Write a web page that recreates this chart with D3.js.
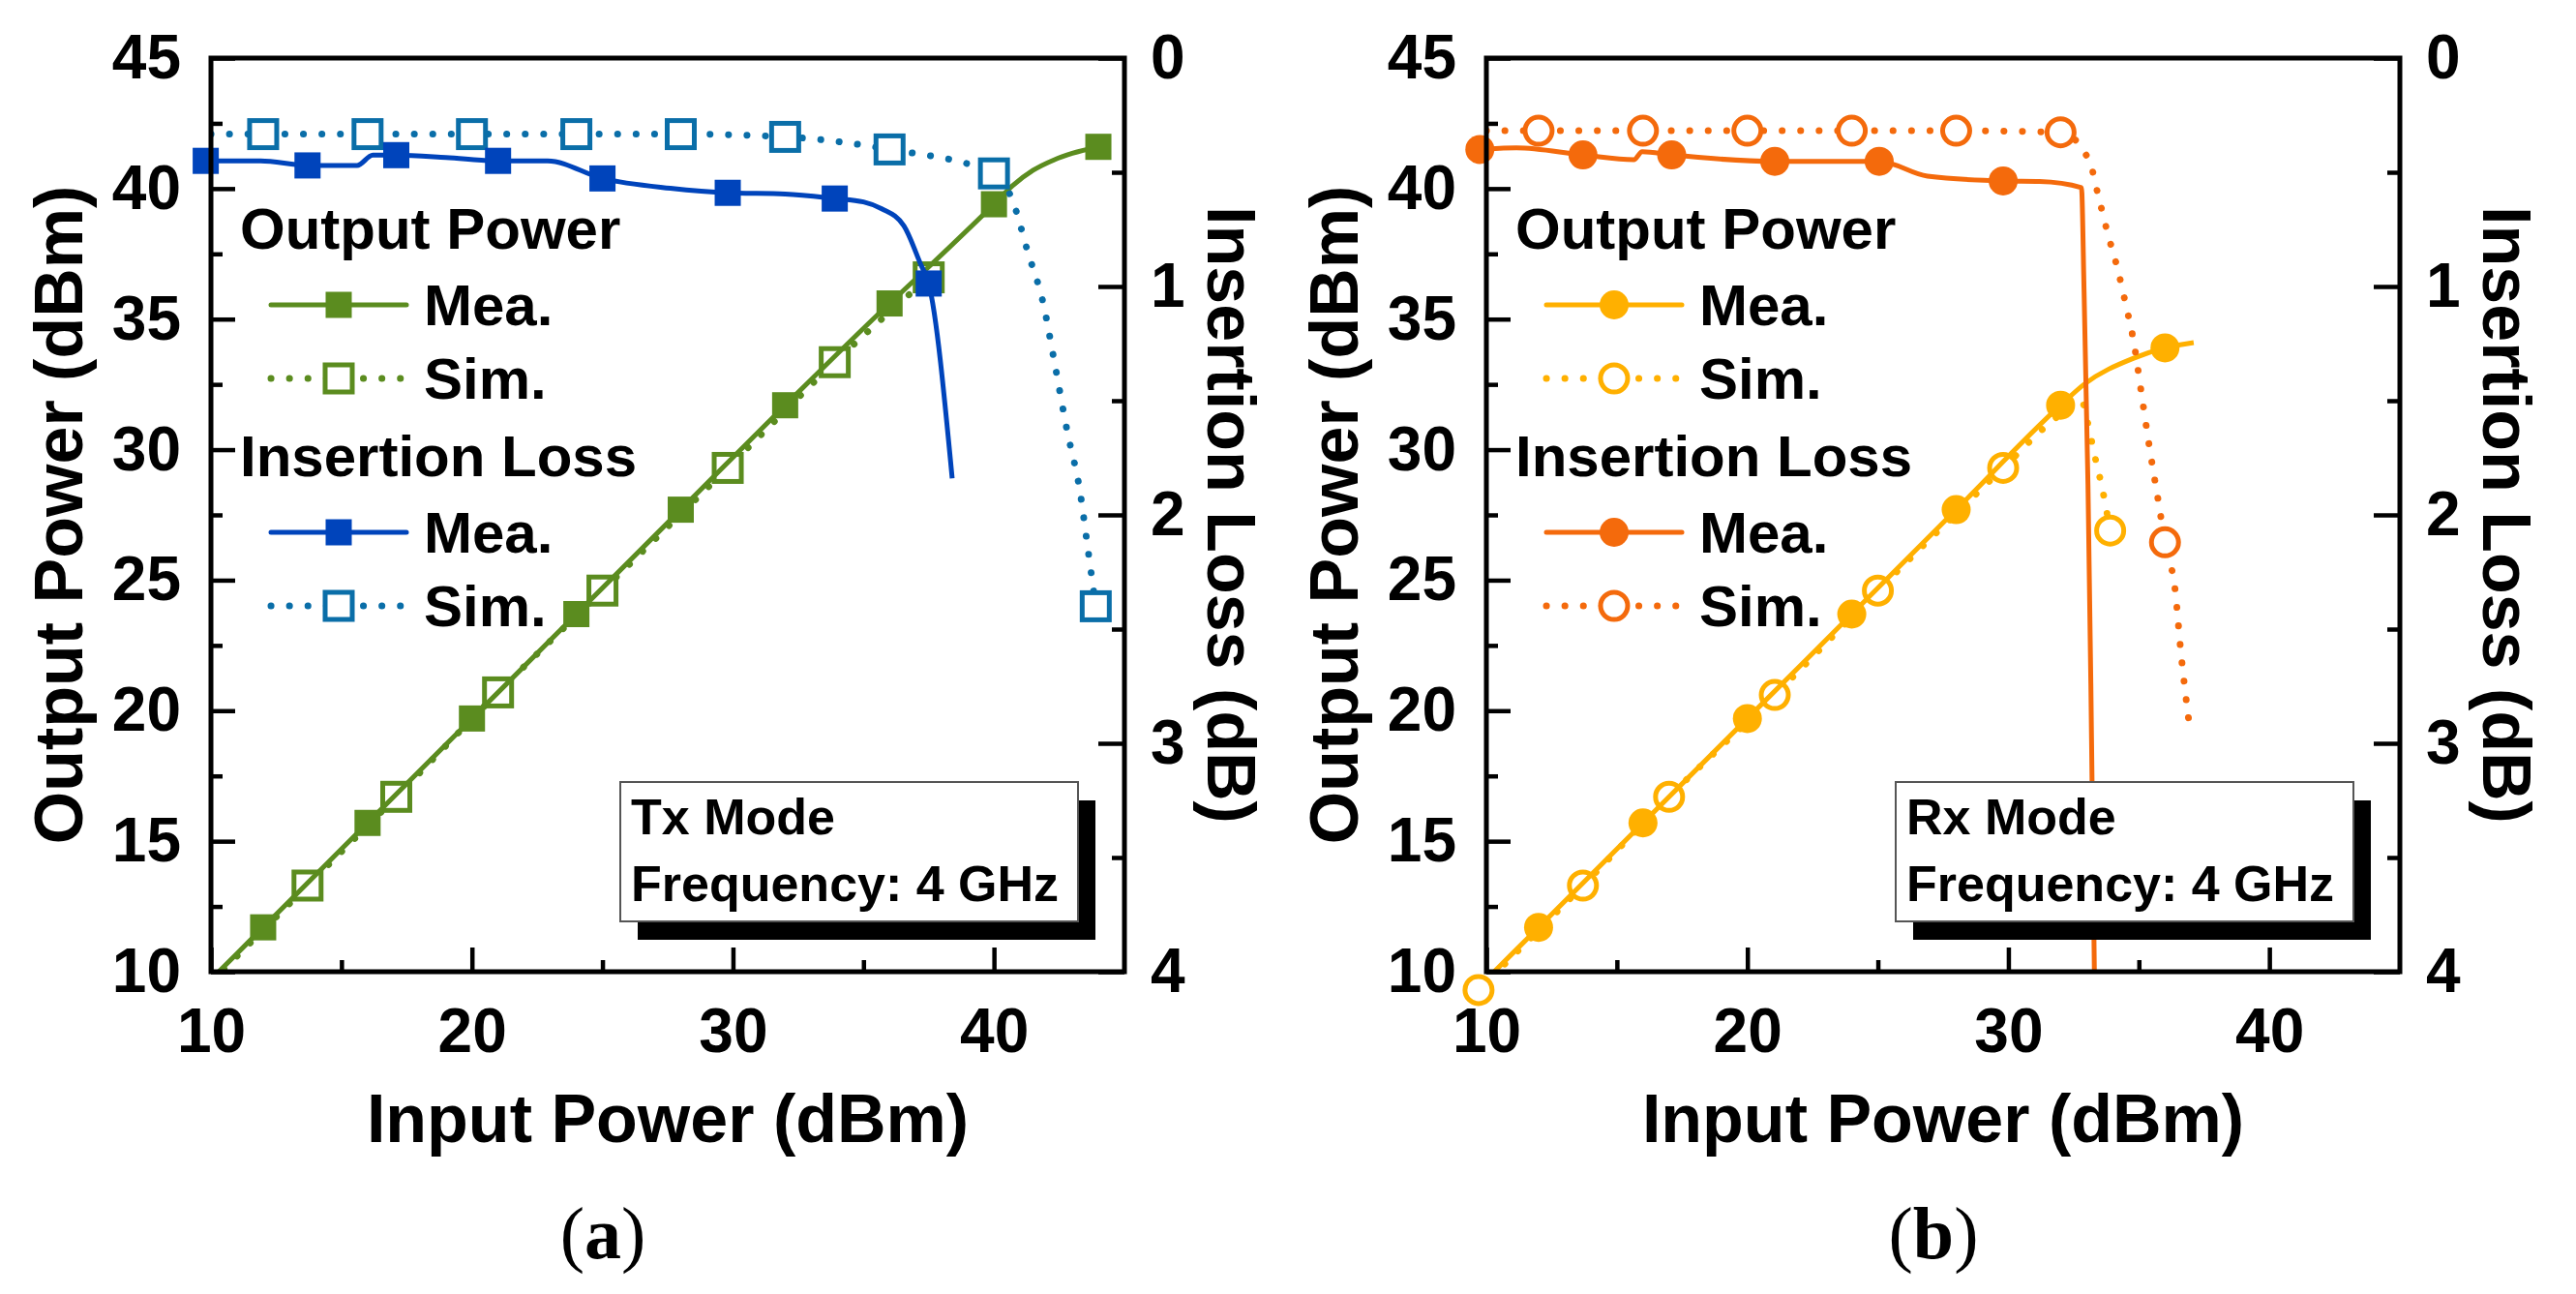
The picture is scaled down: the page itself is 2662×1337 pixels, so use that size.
<!DOCTYPE html>
<html><head><meta charset="utf-8">
<script src="https://cdn.jsdelivr.net/npm/d3@7/dist/d3.min.js"></script>
<style>
body{margin:0;background:#fff}
svg{display:block;background:#fff}
</style>
</head><body>
<svg id="chart" width="2662" height="1337"></svg>
<script>
// ---------- tick values ----------
const xTicks = [10, 20, 30, 40];
const xMinor = [15, 25, 35];
const yLeftTicks = [10, 15, 20, 25, 30, 35, 40, 45];
const yLeftMinor = [12.5, 17.5, 22.5, 27.5, 32.5, 37.5, 42.5];
const yRightTicks = [0, 1, 2, 3, 4];
const yRightMinor = [0.5, 1.5, 2.5, 3.5];

// ---------- (a) Tx mode ----------
const txPoutMeaLineX = [10, 12, 16, 20, 24, 28, 32, 36, 37.5, 40, 40.7, 41.5, 42.3, 43, 44];
const txPoutMeaLineY = [9.7, 11.7, 15.7, 19.7, 23.7, 27.7, 31.7, 35.6, 37.0, 39.4, 40.1, 40.7, 41.1, 41.35, 41.6];
const txPoutMeaMarkX = [12, 16, 20, 24, 28, 32, 36, 40, 44];
const txPoutMeaMarkY = [11.7, 15.7, 19.7, 23.7, 27.7, 31.7, 35.6, 39.4, 41.6];

const txPoutSimLineX = [10, 13.7, 17.1, 21, 25, 29.8, 33.9, 37.5];
const txPoutSimLineY = [9.6, 13.3, 16.7, 20.7, 24.6, 29.3, 33.35, 36.6];
const txPoutSimMarkX = [13.7, 17.1, 21, 25, 29.8, 33.9, 37.5];
const txPoutSimMarkY = [13.3, 16.7, 20.7, 24.6, 29.3, 33.35, 36.6];

const txIlMeaLineX = [9.8, 11.9, 13.7, 15.6, 16.2, 17.1, 19, 21, 22.9, 25, 27.6, 29.8, 32, 33.9, 35, 35.7, 36.55, 37.2, 37.5, 38.4];
const txIlMeaLineY = [0.45, 0.45, 0.47, 0.47, 0.425, 0.425, 0.435, 0.45, 0.45, 0.527, 0.57, 0.59, 0.595, 0.615, 0.63, 0.66, 0.735, 0.905, 0.987, 1.84];
const txIlMeaMarkX = [9.8, 13.7, 17.1, 21, 25, 29.8, 33.9, 37.5];
const txIlMeaMarkY = [0.45, 0.47, 0.425, 0.45, 0.527, 0.59, 0.615, 0.987];

const txIlSimLineX = [10, 12, 16, 20, 24, 28, 32, 36, 40, 40.7, 41.3, 41.9, 42.3, 42.8, 43.3, 43.6, 43.9];
const txIlSimLineY = [0.333, 0.333, 0.333, 0.333, 0.333, 0.333, 0.345, 0.40, 0.505, 0.62, 0.85, 1.08, 1.32, 1.63, 1.9, 2.15, 2.40];
const txIlSimMarkX = [12, 16, 20, 24, 28, 32, 36, 40, 43.9];
const txIlSimMarkY = [0.333, 0.333, 0.333, 0.333, 0.333, 0.345, 0.40, 0.505, 2.40];

// ---------- (b) Rx mode ----------
const rxPoutMeaLineX = [10, 12, 16, 20, 24, 28, 32, 32.9, 34.8, 36, 37.1];
const rxPoutMeaLineY = [9.7, 11.7, 15.7, 19.7, 23.7, 27.7, 31.7, 32.5, 33.5, 33.9, 34.1];
const rxPoutMeaMarkX = [12, 16, 20, 24, 28, 32, 36];
const rxPoutMeaMarkY = [11.7, 15.7, 19.7, 23.7, 27.7, 31.7, 33.9];

const rxPoutSimLineX = [9.7, 13.7, 17.0, 21.05, 25, 29.8, 31.8, 32.8, 33.0, 33.3, 33.6, 33.9];
const rxPoutSimLineY = [9.3, 13.3, 16.7, 20.6, 24.6, 29.3, 31.2, 31.9, 31.2, 29.8, 28.5, 26.9];
const rxPoutSimMarkX = [9.7, 13.7, 17.0, 21.05, 25, 29.8, 33.9];
const rxPoutSimMarkY = [9.3, 13.3, 16.7, 20.6, 24.6, 29.3, 26.9];

const rxIlMeaLineX = [9.75, 11.15, 13.7, 15.65, 15.97, 17.1, 21.05, 25.05, 26.9, 29.8, 31.2, 32.8, 32.9, 33.05, 33.16, 33.3];
const rxIlMeaLineY = [0.40, 0.393, 0.424, 0.445, 0.41, 0.424, 0.452, 0.452, 0.517, 0.538, 0.54, 0.567, 1.02, 1.87, 2.74, 4.05];
const rxIlMeaMarkX = [9.75, 13.7, 17.1, 21.05, 25.05, 29.8];
const rxIlMeaMarkY = [0.40, 0.424, 0.424, 0.452, 0.452, 0.538];

const rxIlSimLineX = [10, 12, 16, 20, 24, 28, 32, 33.1, 33.46, 33.8, 34.2, 34.5, 34.8, 35.1, 35.4, 35.76, 36, 36.4, 36.6, 36.9];
const rxIlSimLineY = [0.318, 0.318, 0.318, 0.318, 0.318, 0.318, 0.325, 0.45, 0.61, 0.765, 0.93, 1.08, 1.24, 1.47, 1.70, 1.95, 2.12, 2.34, 2.59, 2.89];
const rxIlSimMarkX = [12, 16, 20, 24, 28, 32, 36];
const rxIlSimMarkY = [0.318, 0.318, 0.318, 0.318, 0.318, 0.325, 2.12];

// ---------- text ----------
const xTitle = "Input Power (dBm)";
const yLeftTitle = "Output Power (dBm)";
const yRightTitle = "Insertion Loss (dB)";
const legendHeads = ["Output Power", "Insertion Loss"];
const legendItems = ["Mea.", "Sim."];
const freqText = "Frequency: 4 GHz";

const FONT = '"Liberation Sans", Arial, Helvetica, sans-serif';
const SERIF = '"Liberation Serif", "Times New Roman", Times, serif';
const zip = (xs, ys) => xs.map((v, i) => [v, ys[i]]);

const panels = [
  {
    left: 218, tag: "a", tagX: 623, mode: "Tx Mode", shape: "square",
    pColor: "#5b8c1f", ilColor: "#0044bb", ilSimColor: "#0a6ea8",
    poutMea: [zip(txPoutMeaLineX, txPoutMeaLineY), zip(txPoutMeaMarkX, txPoutMeaMarkY)],
    poutSim: [zip(txPoutSimLineX, txPoutSimLineY), zip(txPoutSimMarkX, txPoutSimMarkY)],
    ilMea: [zip(txIlMeaLineX, txIlMeaLineY), zip(txIlMeaMarkX, txIlMeaMarkY)],
    ilSim: [zip(txIlSimLineX, txIlSimLineY), zip(txIlSimMarkX, txIlSimMarkY)]
  },
  {
    left: 1536, tag: "b", tagX: 1998, mode: "Rx Mode", shape: "circle",
    pColor: "#ffb000", ilColor: "#f46a0c", ilSimColor: "#f46a0c",
    poutMea: [zip(rxPoutMeaLineX, rxPoutMeaLineY), zip(rxPoutMeaMarkX, rxPoutMeaMarkY)],
    poutSim: [zip(rxPoutSimLineX, rxPoutSimLineY), zip(rxPoutSimMarkX, rxPoutSimMarkY)],
    ilMea: [zip(rxIlMeaLineX, rxIlMeaLineY), zip(rxIlMeaMarkX, rxIlMeaMarkY)],
    ilSim: [zip(rxIlSimLineX, rxIlSimLineY), zip(rxIlSimMarkX, rxIlSimMarkY)]
  }
];

const svg = d3.select("#chart");
const W = 944, TOP = 60, BOTTOM = 1004;

function marker(g, shape, open, color, cx, cy) {
  if (shape === "square") {
    if (open) {
      g.append("rect").attr("x", cx - 14).attr("y", cy - 14).attr("width", 28).attr("height", 28)
        .attr("fill", "#fff").attr("stroke", color).attr("stroke-width", 5);
    } else {
      g.append("rect").attr("x", cx - 13.5).attr("y", cy - 13.5).attr("width", 27).attr("height", 27)
        .attr("fill", color);
    }
  } else {
    if (open) {
      g.append("circle").attr("cx", cx).attr("cy", cy).attr("r", 14)
        .attr("fill", "#fff").attr("stroke", color).attr("stroke-width", 5);
    } else {
      g.append("circle").attr("cx", cx).attr("cy", cy).attr("r", 15).attr("fill", color);
    }
  }
}

panels.forEach((p, pi) => {
  const x = d3.scaleLinear().domain([10, 45]).range([p.left, p.left + W]);
  const yL = d3.scaleLinear().domain([10, 45]).range([BOTTOM, TOP]);
  const yR = d3.scaleLinear().domain([0, 4]).range([TOP, BOTTOM]);
  const right = p.left + W;
  const g = svg.append("g");

  const clipId = "clip" + pi;
  g.append("clipPath").attr("id", clipId).append("rect")
    .attr("x", p.left).attr("y", TOP).attr("width", W).attr("height", BOTTOM - TOP);

  // axes
  const styleAxis = (sel, size) => {
    sel.select(".domain").remove();
    sel.attr("font-family", FONT).attr("font-size", size).attr("font-weight", "bold");
    sel.selectAll("line").attr("stroke", "#000").attr("stroke-width", 4.5);
    sel.selectAll("text").attr("fill", "#000");
  };
  g.append("g").attr("transform", `translate(0,${BOTTOM})`)
    .call(d3.axisBottom(x).tickValues(xTicks).tickSize(-25).tickPadding(38).tickFormat(d3.format("d")))
    .call(s => styleAxis(s, 64));
  g.append("g").attr("transform", `translate(0,${BOTTOM})`)
    .call(d3.axisBottom(x).tickValues(xMinor).tickSize(-12).tickFormat(""))
    .call(s => styleAxis(s, 64));
  g.append("g").attr("transform", `translate(${p.left},0)`)
    .call(d3.axisLeft(yL).tickValues(yLeftTicks).tickSize(-25).tickPadding(31).tickFormat(d3.format("d")))
    .call(s => styleAxis(s, 64));
  g.append("g").attr("transform", `translate(${p.left},0)`)
    .call(d3.axisLeft(yL).tickValues(yLeftMinor).tickSize(-12).tickFormat(""))
    .call(s => styleAxis(s, 64));
  g.append("g").attr("transform", `translate(${right},0)`)
    .call(d3.axisRight(yR).tickValues(yRightTicks).tickSize(-27).tickPadding(27).tickFormat(d3.format("d")))
    .call(s => styleAxis(s, 64));
  g.append("g").attr("transform", `translate(${right},0)`)
    .call(d3.axisRight(yR).tickValues(yRightMinor).tickSize(-13).tickFormat(""))
    .call(s => styleAxis(s, 64));

  // titles
  g.append("text").attr("x", p.left + W / 2).attr("y", 1180).attr("text-anchor", "middle")
    .attr("font-family", FONT).attr("font-weight", "bold").attr("font-size", 70).text(xTitle);
  g.append("text").attr("transform", `translate(${p.left - 133},${(TOP + BOTTOM) / 2}) rotate(-90)`)
    .attr("text-anchor", "middle").attr("font-family", FONT).attr("font-weight", "bold")
    .attr("font-size", 70).text(yLeftTitle);
  g.append("text").attr("transform", `translate(${right + 86},${(TOP + BOTTOM) / 2}) rotate(90)`)
    .attr("text-anchor", "middle").attr("font-family", FONT).attr("font-weight", "bold")
    .attr("font-size", 70).text(yRightTitle);

  // series
  const plot = g.append("g");
  const lineL = d3.line().x(d => x(d[0])).y(d => yL(d[1])).curve(d3.curveMonotoneX);
  const lineR = d3.line().x(d => x(d[0])).y(d => yR(d[1])).curve(d3.curveMonotoneX);
  const dotted = { "stroke-dasharray": "0.1 19", "stroke-linecap": "round", "stroke-width": 7 };

  function series(data, lineGen, yS, color, open) {
    const path = plot.append("path").attr("clip-path", `url(#${clipId})`)
      .attr("d", lineGen(data[0])).attr("fill", "none").attr("stroke", color);
    if (open) Object.entries(dotted).forEach(([k, v]) => path.attr(k, v));
    else path.attr("stroke-width", 5).attr("stroke-linejoin", "round");
    data[1].forEach(d => marker(plot, p.shape, open, color, x(d[0]), yS(d[1])));
  }
  series(p.poutSim, lineL, yL, p.pColor, true);
  series(p.poutMea, lineL, yL, p.pColor, false);
  series(p.ilSim, lineR, yR, p.ilSimColor, true);
  series(p.ilMea, lineR, yR, p.ilColor, false);

  // info box with shadow (on top of the curves)
  const bx = p.left + 423, by = 808, bw = 473, bh = 144;
  g.append("rect").attr("x", bx + 18).attr("y", by + 19).attr("width", bw).attr("height", bh).attr("fill", "#000");
  g.append("rect").attr("x", bx).attr("y", by).attr("width", bw).attr("height", bh)
    .attr("fill", "#fff").attr("stroke", "#555").attr("stroke-width", 2);
  g.append("text").attr("x", bx + 11).attr("y", 862).attr("font-family", FONT).attr("font-weight", "bold")
    .attr("font-size", 52).text(p.mode);
  g.append("text").attr("x", bx + 11).attr("y", 931).attr("font-family", FONT).attr("font-weight", "bold")
    .attr("font-size", 52).text(freqText);

  // frame
  g.append("rect").attr("x", p.left).attr("y", TOP).attr("width", W).attr("height", BOTTOM - TOP)
    .attr("fill", "none").attr("stroke", "#000").attr("stroke-width", 5);

  // legend
  const lg = g.append("g");
  const lx = p.left;
  lg.append("text").attr("x", lx + 30).attr("y", 257).attr("font-family", FONT).attr("font-weight", "bold")
    .attr("font-size", 60).text(legendHeads[0]);
  lg.append("text").attr("x", lx + 30).attr("y", 492).attr("font-family", FONT).attr("font-weight", "bold")
    .attr("font-size", 60).text(legendHeads[1]);
  const rows = [
    { y: 315, color: p.pColor, open: false, label: legendItems[0] },
    { y: 391, color: p.pColor, open: true, label: legendItems[1] },
    { y: 550, color: p.ilColor, open: false, label: legendItems[0] },
    { y: 626, color: p.ilSimColor, open: true, label: legendItems[1] }
  ];
  rows.forEach(r => {
    const ln = lg.append("line").attr("x1", lx + 62).attr("x2", lx + 202).attr("y1", r.y).attr("y2", r.y)
      .attr("stroke", r.color);
    if (r.open) Object.entries(dotted).forEach(([k, v]) => ln.attr(k, v));
    else ln.attr("stroke-width", 5).attr("stroke-linecap", "round");
    marker(lg, p.shape, r.open, r.color, lx + 132, r.y);
    lg.append("text").attr("x", lx + 220).attr("y", r.y + 21).attr("font-family", FONT)
      .attr("font-weight", "bold").attr("font-size", 60).text(r.label);
  });

  // panel tag
  const t = g.append("text").attr("x", p.tagX).attr("y", 1300).attr("text-anchor", "middle")
    .attr("font-family", SERIF).attr("font-size", 76);
  t.append("tspan").text("(");
  t.append("tspan").attr("font-weight", "bold").text(p.tag);
  t.append("tspan").text(")");
});
</script>
</body></html>
